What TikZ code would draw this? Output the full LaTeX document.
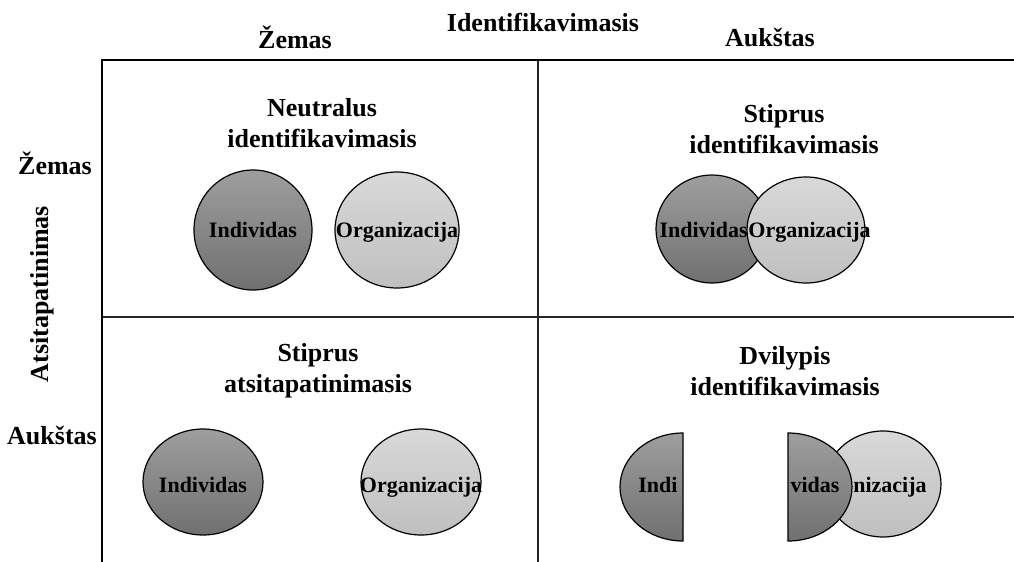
\documentclass[tikz,border=0pt]{standalone}
\usepackage{fontspec}
\setmainfont{Liberation Serif}
\usetikzlibrary{shapes.geometric}
\tikzset{
    lbl/.style={font=\fontsize{13}{15.5}\selectfont\bfseries, align=center, inner sep=0pt},
    txt/.style={font=\fontsize{11}{13}\selectfont\bfseries, inner sep=0pt,
        text height=1.6ex, text depth=.3ex},
    oval/.style={ellipse, draw=black, line width=0.6pt, inner sep=0pt},
    indiv/.style={oval, top color=black!38, bottom color=black!56},
    orgz/.style={oval, top color=black!15, bottom color=black!25},
    halfind/.style={top color=black!38, bottom color=black!56, draw=black, line width=0.6pt},
    grid/.style={line width=0.6pt, black!85}
}
\begin{document}
\begin{tikzpicture}[x=0.5pt,y=-0.5pt]
    \useasboundingbox (0,0) rectangle (1014,562);
    % axes and quadrant lines
    \draw[grid] (538,60) -- (538,562);
    \draw[grid] (102,317) -- (1014,317);
    \draw[line width=1.2pt] (102,562) -- (102,60) -- (1014,60);
    % axis labels
    \node[lbl] (idf) at (543,22) {Identifikavimasis};
    \node[lbl] (ilow) at (295,37) {Žemas};
    \node[lbl] (ihigh) at (770,37) {Aukštas};
    \node[lbl, rotate=90] (ats) at (42,294) {Atsitapatinimas};
    \node[lbl] (alow) at (55,163) {Žemas};
    \node[lbl] (ahigh) at (52,435) {Aukštas};
    % quadrant titles
    \node[lbl] (q1) at (322,123) {Neutralus\\identifikavimasis};
    \node[lbl] (q2) at (784,129) {Stiprus\\identifikavimasis};
    \node[lbl] (q3) at (318,371) {Stiprus\\atsitapatinimasis};
    \node[lbl] (q4) at (785,371) {Dvilypis\\identifikavimasis};
    % top left
    \node[indiv, minimum width=59pt, minimum height=60pt] (ind1) at (253,230) {};
    \node[orgz, minimum width=62pt, minimum height=58pt] (org1) at (397,230) {};
    \node[txt] (ind1t) at (253,232) {Individas};
    \node[txt] (org1t) at (397,232) {Organizacija};
    % top right
    \node[indiv, minimum width=56pt, minimum height=54pt] (ind2) at (712,229) {};
    \node[orgz, minimum width=59pt, minimum height=53pt] (org2) at (806,230) {};
    \node[txt, anchor=east] (ind2t) at (748,232) {Individas};
    \node[txt, anchor=west] (org2t) at (748,232) {Organizacija};
    % bottom left
    \node[indiv, minimum width=60pt, minimum height=53pt] (ind3) at (203,482) {};
    \node[orgz, minimum width=60pt, minimum height=53pt] (org3) at (421,482) {};
    \node[txt] (ind3t) at (203,487) {Individas};
    \node[txt] (org3t) at (421,487) {Organizacija};
    % bottom right
    \node[orgz, minimum width=58pt, minimum height=53pt] (org4) at (883,484) {};
    \shade[halfind] (683,541) arc[start angle=90, end angle=270, x radius=63, y radius=54] -- cycle;
    \shade[halfind] (788,541) arc[start angle=90, end angle=-90, x radius=64, y radius=54] -- cycle;
    \node[txt] (ind4a) at (658,487) {Indi};
    \node[txt] (ind4b) at (815,487) {vidas};
    \node[txt] (org4t) at (890,487) {nizacija};
\end{tikzpicture}
\end{document}
